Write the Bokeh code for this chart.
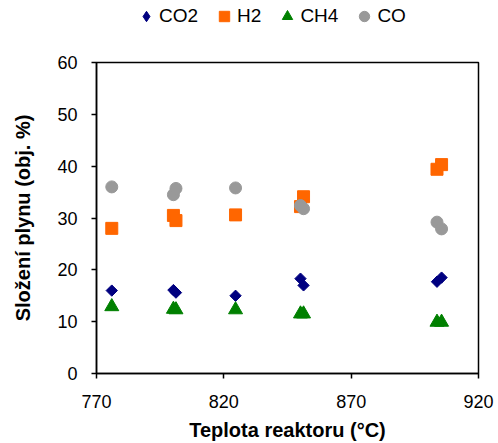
import numpy as np
from bokeh.plotting import figure
from bokeh.layouts import column
from bokeh.models import Legend, LegendItem, FixedTicker, Range1d
from bokeh.embed import file_html
from bokeh.resources import INLINE

# Data (temperature in °C, composition in vol. %)
temp = [776.0, 800.2, 801.2, 824.6, 850.1, 851.3, 903.7, 905.5]
co2 = [16.0, 16.1, 15.6, 15.0, 18.3, 17.0, 17.7, 18.5]
h2 = [28.0, 30.5, 29.5, 30.6, 32.2, 34.1, 39.4, 40.3]
ch4 = [12.9, 12.4, 12.3, 12.3, 11.5, 11.5, 9.9, 9.9]
co = [36.0, 34.5, 35.7, 35.8, 32.4, 31.8, 29.2, 27.9]

series_names = ["CO2", "H2", "CH4", "CO"]
x_ticks = [770, 820, 870, 920]
y_ticks = [0, 10, 20, 30, 40, 50, 60]

FONT = "Liberation Sans"
C_CO2, C_H2, C_CH4, C_CO = "#000080", "#FF6600", "#008000", "#999999"

# ---- main plot ----
p = figure(width=498, height=403, output_backend="svg", toolbar_location=None,
           x_range=Range1d(770, 920), y_range=Range1d(0, 60),
           min_border_left=96, min_border_right=20, min_border_top=22, min_border_bottom=69)
p.grid.visible = False
p.outline_line_color = "black"
p.outline_line_width = 1.5
p.background_fill_color = "white"
p.border_fill_color = "white"

for ax in (p.xaxis[0], p.yaxis[0]):
    ax.axis_line_width = 1.5
    ax.axis_line_color = "black"
    ax.major_tick_line_width = 1.5
    ax.major_tick_out = 5
    ax.major_tick_in = 0
    ax.minor_tick_line_color = None
    ax.major_label_text_font = FONT
    ax.major_label_text_font_size = "18px"
    ax.major_label_text_color = "black"
    ax.axis_label_text_font = FONT
    ax.axis_label_text_font_size = "20px"
    ax.axis_label_text_font_style = "bold"
    ax.axis_label_text_color = "black"

p.xaxis.ticker = FixedTicker(ticks=x_ticks)
p.yaxis.ticker = FixedTicker(ticks=y_ticks)
p.xaxis.axis_label = "Teplota reaktoru (°C)"
p.yaxis.axis_label = "Složení plynu (obj. %)"
p.xaxis.major_label_standoff = 16
p.yaxis.major_label_standoff = 14
p.xaxis.axis_label_standoff = 8
p.yaxis.axis_label_standoff = 20

p.scatter(temp, co2, marker="square", angle=np.pi / 4, size=8,
          fill_color=C_CO2, line_color=C_CO2)
p.scatter(temp, h2, marker="square", size=12, fill_color=C_H2, line_color=C_H2)
p.scatter(temp, ch4, marker="triangle", size=14, fill_color=C_CH4, line_color=C_CH4)
p.scatter(temp, co, marker="circle", size=12, fill_color=C_CO, line_color=C_CO)

# ---- legend strip on top ----
lg = figure(width=498, height=40, output_backend="svg", toolbar_location=None,
            x_range=Range1d(0, 1), y_range=Range1d(0, 1),
            min_border=0, outline_line_color=None)
lg.axis.visible = False
lg.grid.visible = False
markers = ["diamond", "square", "triangle", "circle"]
colors = [C_CO2, C_H2, C_CH4, C_CO]
items = []
for name, m, c in zip(series_names, markers, colors):
    r = lg.scatter(x=[float("nan")], y=[float("nan")], marker=m,
                   fill_color=c, line_color=c)
    items.append(LegendItem(label=name, renderers=[r]))

legend = Legend(items=items, orientation="horizontal", location=(37, 11),
                glyph_width=26, glyph_height=26, label_standoff=0, spacing=13,
                padding=0, margin=0, border_line_color=None, background_fill_alpha=0,
                label_text_font=FONT, label_text_font_size="19px", label_text_color="black")
lg.add_layout(legend, "center")

layout = column(lg, p, spacing=0)
open("out.html", "w").write(file_html(layout, INLINE))
